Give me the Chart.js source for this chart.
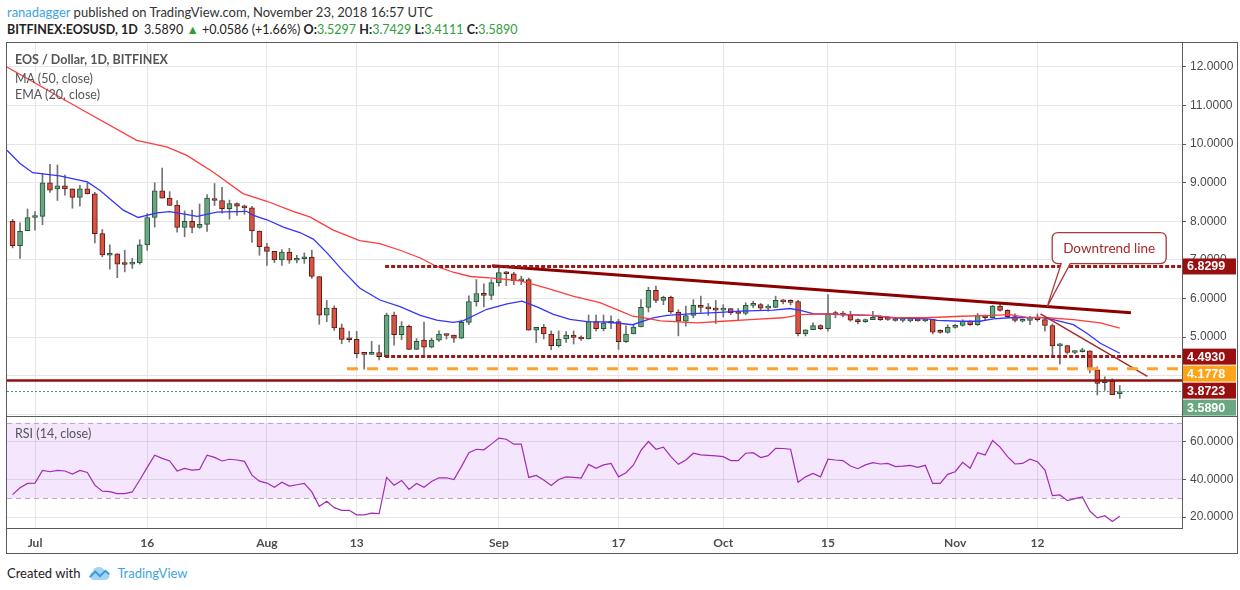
<!DOCTYPE html>
<html>
<head>
<meta charset="utf-8">
<script src="https://cdn.jsdelivr.net/npm/chart.js@4.4.0/dist/chart.umd.min.js"></script>
<style>
  body { margin: 0; width: 1240px; height: 590px; overflow: hidden; position: relative; background: #fff; font-family: Lato, "Liberation Sans", sans-serif; }
  .abs { position: absolute; white-space: nowrap; }
  #hdr1 { left: 7px; top: 4px; font-size: 13px; color: #333; }
  #hdr1 .user { color: #3ea3e0; }
  #hdr2 { left: 7px; top: 22px; font-size: 12.5px; color: #222; }
  #hdr2 b { font-weight: bold; }
  #hdr2 .g { color: #2f9e3a; }
  #frame { left: 6px; top: 42px; width: 1232px; height: 512px; box-sizing: border-box; border: 1px solid #5b5b5b; }
  #sep { left: 6px; top: 416px; width: 1232px; height: 1px; background: #5b5b5b; }
  #priceChart { position: absolute; left: 7px; top: 43px; }
  #rsiChart { position: absolute; left: 7px; top: 417px; }
  .leg { font-size: 12.5px; color: #555; }
  #foot { left: 7px; top: 565px; font-size: 13px; color: #222; }
  #foot .tv { color: #3ea3e0; }
</style>
</head>
<body>
<div id="hdr1" class="abs"><span class="user">ranadagger</span> published on TradingView.com, November 23, 2018 16:57 UTC</div>
<div id="hdr2" class="abs"><b>BITFINEX:EOSUSD, 1D</b>&nbsp; 3.5890 <span class="g">&#9650;</span> +0.0586 (+1.66%) <b>O:</b><span class="g">3.5297</span> <b>H:</b><span class="g">3.7429</span> <b>L:</b><span class="g">3.4111</span> <b>C:</b><span class="g">3.5890</span></div>
<canvas id="priceChart" width="1230" height="373"></canvas>
<canvas id="rsiChart" width="1230" height="136"></canvas>
<div id="frame" class="abs"></div>
<div id="sep" class="abs"></div>
<div class="abs leg" style="left:15px;top:52px;font-weight:bold;">EOS / Dollar, 1D, BITFINEX</div>
<div class="abs leg" style="left:15px;top:71px;">MA (50, close)</div>
<div class="abs leg" style="left:15px;top:87px;">EMA (20, close)</div>
<div class="abs leg" style="left:15px;top:426px;">RSI (14, close)</div>
<div id="foot" class="abs">Created with &nbsp;<svg width="24" height="15" viewBox="0 0 26 16" style="vertical-align:-3px"><path d="M6 15 a5 5 0 0 1 0-9 a7 7 0 0 1 13-1 a5 5 0 0 1 1 10z" fill="#a6d3f2"/><polyline points="3,12 9,6 14,11 20,5 24,9" fill="none" stroke="#2e9be0" stroke-width="2"/></svg>&nbsp; <span class="tv">TradingView</span></div>

<script>
// day index: Jul 1 2018 = 0, first candle Jun 28 = -3
const firstDay = -3;

const opens = [
  8.00, 7.37, 7.76, 8.10, 8.13, 9.00, 8.84, 8.92, 8.84, 8.62,
  8.84, 8.71, 7.68, 7.12, 7.16, 6.90, 6.89, 6.92, 7.39, 8.10,
  8.79, 8.60, 8.42, 7.84, 8.00, 7.84, 7.92, 8.59, 8.54, 8.33,
  8.46, 8.39, 8.35, 7.75, 7.34, 7.22, 7.00, 7.20, 6.99, 7.03,
  7.07, 6.57, 5.57, 5.75, 5.24, 4.95, 4.94, 4.57, 4.55, 4.60,
  4.49, 5.57, 5.06, 5.28, 4.68, 4.92, 4.74, 4.92, 5.08, 5.05,
  4.97, 5.38, 5.92, 6.13, 6.08, 6.41, 6.67, 6.64, 6.46, 6.49,
  5.18, 5.25, 5.08, 4.78, 4.95, 5.05, 4.99, 4.95, 5.40, 5.22,
  5.36, 5.40, 4.88, 5.08, 5.26, 5.77, 6.21, 5.95, 6.03, 5.65,
  5.41, 5.56, 5.82, 5.77, 5.74, 5.70, 5.74, 5.63, 5.61, 5.82,
  5.84, 5.75, 5.77, 5.95, 5.92, 5.92, 5.09, 5.19, 5.30, 5.22,
  5.61, 5.58, 5.58, 5.44, 5.40, 5.45, 5.51, 5.47, 5.48, 5.43,
  5.42, 5.46, 5.42, 5.46, 5.13, 5.12, 5.25, 5.30, 5.41, 5.32,
  5.56, 5.50, 5.80, 5.69, 5.53, 5.41, 5.43, 5.51, 5.45, 5.30,
  4.77, 4.78, 4.60, 4.62, 4.64, 4.15, 3.82, 3.86, 3.5297
];
const highs = [
  8.05, 7.96, 8.32, 8.25, 9.24, 9.48, 9.46, 9.20, 8.84, 8.93,
  9.00, 8.75, 7.79, 7.39, 7.16, 7.25, 7.04, 7.52, 8.20, 9.00,
  9.38, 8.77, 8.54, 8.27, 8.29, 8.45, 8.69, 8.98, 8.88, 8.55,
  8.48, 8.42, 8.39, 7.75, 7.43, 7.22, 7.27, 7.30, 7.12, 7.18,
  7.25, 6.57, 5.95, 5.81, 5.34, 5.15, 5.15, 4.57, 4.89, 4.79,
  5.62, 5.65, 5.40, 5.31, 4.96, 5.39, 4.97, 5.16, 5.08, 5.05,
  5.44, 6.07, 6.49, 6.38, 6.49, 6.83, 6.70, 6.68, 6.58, 6.53,
  5.25, 5.33, 5.16, 5.16, 5.14, 5.16, 5.03, 5.57, 5.57, 5.57,
  5.55, 5.46, 5.29, 5.32, 5.97, 6.29, 6.32, 6.06, 6.06, 5.71,
  5.80, 5.97, 6.06, 5.87, 5.95, 5.84, 5.74, 5.74, 5.89, 5.93,
  5.87, 5.84, 6.06, 5.97, 5.97, 5.95, 5.19, 5.37, 5.32, 6.10,
  5.67, 5.67, 5.67, 5.47, 5.47, 5.67, 5.56, 5.54, 5.50, 5.50,
  5.50, 5.47, 5.48, 5.46, 5.19, 5.32, 5.33, 5.45, 5.43, 5.61,
  5.57, 5.82, 5.86, 5.71, 5.60, 5.47, 5.54, 5.60, 5.50, 5.34,
  4.84, 4.78, 4.64, 4.71, 4.64, 4.23, 3.97, 3.92, 3.7429
];
const lows = [
  7.31, 7.04, 7.76, 7.77, 7.91, 8.75, 8.54, 8.68, 8.34, 8.39,
  8.71, 7.44, 7.08, 6.76, 6.54, 6.69, 6.78, 6.89, 7.25, 7.85,
  8.60, 8.41, 7.72, 7.60, 7.70, 7.82, 7.74, 8.41, 8.21, 8.06,
  8.15, 8.18, 7.45, 7.12, 6.86, 6.93, 6.86, 6.91, 6.92, 6.91,
  6.52, 5.33, 5.40, 5.17, 4.83, 4.87, 4.46, 4.17, 4.55, 4.41,
  4.49, 4.79, 4.93, 4.68, 4.68, 4.54, 4.72, 4.89, 4.95, 4.86,
  4.96, 5.32, 5.80, 5.78, 5.97, 6.32, 6.33, 6.36, 6.36, 5.18,
  4.86, 4.95, 4.67, 4.74, 4.86, 4.82, 4.91, 4.95, 5.16, 5.16,
  5.22, 4.68, 4.86, 5.08, 5.26, 5.65, 5.89, 5.84, 5.61, 5.03,
  5.28, 5.50, 5.64, 5.56, 5.35, 5.52, 5.58, 5.43, 5.58, 5.76,
  5.71, 5.67, 5.76, 5.86, 5.83, 5.03, 5.03, 5.19, 5.19, 5.15,
  5.50, 5.52, 5.41, 5.34, 5.38, 5.45, 5.43, 5.43, 5.41, 5.39,
  5.39, 5.41, 5.40, 5.08, 5.10, 5.10, 5.23, 5.28, 5.30, 5.30,
  5.43, 5.50, 5.67, 5.51, 5.39, 5.39, 5.32, 5.41, 5.15, 4.50,
  4.30, 4.56, 4.57, 4.61, 4.07, 3.50, 3.62, 3.51, 3.4111
];
const closes = [
  7.37, 7.74, 8.10, 8.13, 9.00, 8.81, 8.92, 8.84, 8.62, 8.84,
  8.71, 7.68, 7.13, 7.14, 6.89, 6.88, 6.92, 7.39, 8.10, 8.79,
  8.60, 8.41, 7.84, 8.00, 7.84, 7.92, 8.60, 8.54, 8.33, 8.46,
  8.39, 8.35, 7.75, 7.34, 7.22, 7.00, 7.20, 6.99, 7.04, 7.07,
  6.57, 5.57, 5.75, 5.24, 4.94, 4.93, 4.56, 4.55, 4.60, 4.49,
  5.57, 5.06, 5.28, 4.68, 4.89, 4.74, 4.92, 5.08, 5.04, 4.97,
  5.38, 5.92, 6.13, 6.08, 6.41, 6.67, 6.64, 6.46, 6.49, 5.18,
  5.25, 5.08, 4.78, 4.95, 5.05, 4.99, 4.95, 5.40, 5.22, 5.36,
  5.40, 4.88, 5.08, 5.26, 5.77, 6.21, 5.95, 6.03, 5.65, 5.41,
  5.56, 5.82, 5.77, 5.73, 5.70, 5.74, 5.63, 5.61, 5.82, 5.84,
  5.75, 5.77, 5.95, 5.91, 5.90, 5.09, 5.19, 5.30, 5.22, 5.61,
  5.58, 5.57, 5.44, 5.40, 5.45, 5.51, 5.45, 5.46, 5.43, 5.45,
  5.46, 5.42, 5.46, 5.13, 5.12, 5.25, 5.30, 5.41, 5.32, 5.56,
  5.50, 5.80, 5.69, 5.53, 5.43, 5.43, 5.51, 5.45, 5.30, 4.77,
  4.78, 4.60, 4.63, 4.64, 4.15, 3.80, 3.87, 3.51, 3.589
];

// RSI (14, close), one value per candle
const rsiValues = [
  31.9, 35.5, 37.8, 38.0, 44.7, 44.0, 44.7, 44.4, 42.8, 44.7,
  43.6, 36.9, 33.7, 33.5, 32.4, 32.4, 33.3, 39.6, 46.3, 52.7,
  51.1, 49.7, 44.4, 45.8, 44.9, 45.2, 52.7, 51.6, 49.7, 50.6,
  50.2, 49.5, 42.2, 39.0, 38.0, 35.8, 38.5, 36.4, 37.1, 37.8,
  33.3, 25.7, 28.4, 25.0, 23.6, 23.6, 21.2, 21.2, 22.1, 21.8,
  41.0, 36.9, 39.4, 34.6, 37.8, 35.8, 38.8, 40.8, 40.8, 39.9,
  46.7, 54.1, 55.9, 55.6, 58.6, 61.8, 61.2, 58.6, 58.6, 41.0,
  42.0, 39.6, 36.7, 39.9, 41.3, 41.0, 40.6, 47.9, 45.8, 47.6,
  48.4, 41.3, 43.5, 47.6, 55.3, 60.0, 55.9, 57.0, 52.0, 47.9,
  50.2, 53.8, 52.9, 52.7, 52.4, 52.0, 49.9, 49.9, 53.8, 54.1,
  51.5, 52.5, 56.4, 56.3, 55.9, 38.5, 41.3, 43.1, 41.3, 50.6,
  50.2, 49.9, 47.0, 45.6, 47.6, 48.8, 48.1, 48.4, 46.7, 47.0,
  47.4, 46.3, 47.4, 37.8, 37.8, 42.6, 44.0, 49.0, 45.8, 54.1,
  52.9, 60.5, 57.0, 52.0, 48.1, 48.4, 50.6, 49.3, 44.9, 31.4,
  31.7, 28.7, 29.8, 30.7, 23.2, 19.6, 20.7, 17.7, 20.4
];

// EMA (20) and MA (50)
const emaDays = [-3.75, -2.0, -0.3, 3.3, 7.0, 8.7, 11.8, 13.8, 16.3, 18.0,
  21.7, 24.3, 28.3, 29.1, 31.0, 33.2, 35.4, 37.2, 39.0, 41.2,
  43.4, 46.1, 48.8, 51.5, 53.7, 55.9, 57.2, 60.4, 63.1, 65.1,
  67.1, 69.3, 71.5, 73.8, 76.5, 79.9, 82.6, 84.5, 88.0, 91.6,
  94.3, 98.7, 100.9, 102.3, 104.0, 107.6, 111.6, 114.7, 119.3, 120.6,
  123.7, 126.3, 128.1, 130.3, 134.4, 136.1, 138.8, 140.6, 142.4, 145.0];
const emaValues = [9.84, 9.50, 9.26, 9.18, 9.02, 8.80, 8.29, 8.10, 8.22, 8.25,
  8.13, 8.24, 8.26, 8.16, 8.04, 7.85, 7.71, 7.54, 7.19, 6.71,
  6.27, 5.96, 5.79, 5.56, 5.44, 5.38, 5.42, 5.72, 5.86, 5.93,
  5.78, 5.59, 5.46, 5.40, 5.39, 5.32, 5.50, 5.56, 5.61, 5.64,
  5.67, 5.70, 5.74, 5.69, 5.61, 5.58, 5.56, 5.50, 5.47, 5.43,
  5.41, 5.41, 5.47, 5.50, 5.51, 5.45, 5.32, 5.10, 4.84, 4.58];
const maDays = [-3.75, 6.4, 13.6, 17.6, 20.3, 23.8, 27.8, 31.0, 34.5, 36.8,
  39.8, 43.4, 46.1, 48.8, 51.5, 53.7, 55.9, 58.2, 61.2, 64.8,
  68.4, 71.9, 75.5, 78.2, 79.9, 82.2, 83.6, 88.5, 92.0, 95.6,
  100.0, 102.3, 105.9, 111.6, 114.7, 119.3, 123.7, 128.1, 130.3, 132.6,
  135.3, 138.8, 142.4, 145.0];
const maValues = [12.00, 10.88, 10.10, 9.93, 9.71, 9.28, 8.72, 8.52, 8.26, 8.11,
  7.78, 7.50, 7.42, 7.25, 7.05, 6.83, 6.68, 6.57, 6.53, 6.46,
  6.27, 6.06, 5.89, 5.68, 5.54, 5.47, 5.42, 5.37, 5.41, 5.45,
  5.50, 5.58, 5.60, 5.56, 5.51, 5.50, 5.54, 5.56, 5.58, 5.51,
  5.50, 5.45, 5.37, 5.23];

const tickDays = [0, 15, 31, 43, 62, 78, 92, 106, 123, 134];
const tickNames = ['Jul', '16', 'Aug', '13', 'Sep', '17', 'Oct', '15', 'Nov', '12'];
const priceTicks = [3, 4, 5, 6, 7, 8, 9, 10, 11, 12];
const rsiTicks = [20, 40, 60];
const rsiBand = [30, 70];

// drawn levels and trend lines
const levelValues = [6.8299, 4.4930, 4.1778, 3.8723, 3.5890];
const levelFromDays = [46.8, 46.8, 41.7, -3.75, -3.75];
const trendDays = [61.1, 146.5];
const trendValues = [6.85, 5.63];
const breakDays = [134.4, 148.7];
const breakValues = [5.60, 3.98];
const calloutDay = 135.3;
const calloutText = 'Downtrend line';

const xMin = -3.743, xMax = 153.32;
const FONT = 'Lato, "Liberation Sans", sans-serif';
Chart.defaults.font.family = FONT;

const days = opens.map((o, i) => firstDay + i);
const up = opens.map((o, i) => closes[i] >= o);

const levelStyles = [
  { color: '#9e1a1a', width: 3, dash: [4, 2] },
  { color: '#9e1a1a', width: 3, dash: [4, 2] },
  { color: '#ffa22b', width: 3, dash: [11, 9] },
  { color: '#8f1111', width: 2.5, dash: [] },
  { color: '#3e9e63', width: 1, dash: [2, 2] }
];
const boxColors = ['#990f0f', '#990f0f', '#ffa318', '#990f0f', '#6aa883'];

const levelSets = levelValues.map((v, i) => ({
  type: 'line',
  data: [{ x: levelFromDays[i], y: v }, { x: xMax, y: v }],
  borderColor: levelStyles[i].color,
  borderWidth: levelStyles[i].width,
  borderDash: levelStyles[i].dash,
  pointRadius: 0,
  order: 0
}));

const xGrid = {
  type: 'linear', min: xMin, max: xMax, offset: false,
  grid: { color: '#e6e6e6', offset: false, drawTicks: false },
  border: { display: false },
  afterBuildTicks: s => { s.ticks = tickDays.map(v => ({ value: v })); }
};

const priceLabels = {
  id: 'priceLabels',
  afterDraw(chart) {
    const { ctx, chartArea, scales: { x, y } } = chart;
    ctx.save();
    ctx.font = '12px "Liberation Sans", Arial, sans-serif';
    ctx.fillStyle = '#4a4a4a';
    ctx.textBaseline = 'middle';
    priceTicks.forEach(v => {
      if (v < 3.5) return;
      ctx.fillText(v.toFixed(4), chartArea.right + 8, y.getPixelForValue(v));
    });
    // callout
    const f = (calloutDay - trendDays[0]) / (trendDays[1] - trendDays[0]);
    const ax = x.getPixelForValue(calloutDay);
    const ay = y.getPixelForValue(trendValues[0] + f * (trendValues[1] - trendValues[0]));
    const bx = ax + 5, by = ay - 74, bw = 114, bh = 31, r = 6;
    ctx.beginPath();
    ctx.moveTo(bx + r, by);
    ctx.lineTo(bx + bw - r, by); ctx.quadraticCurveTo(bx + bw, by, bx + bw, by + r);
    ctx.lineTo(bx + bw, by + bh - r); ctx.quadraticCurveTo(bx + bw, by + bh, bx + bw - r, by + bh);
    ctx.lineTo(bx + 18, by + bh);
    ctx.lineTo(ax, ay);
    ctx.lineTo(bx + 9, by + bh);
    ctx.lineTo(bx + r, by + bh); ctx.quadraticCurveTo(bx, by + bh, bx, by + bh - r);
    ctx.lineTo(bx, by + r); ctx.quadraticCurveTo(bx, by, bx + r, by);
    ctx.closePath();
    ctx.fillStyle = '#fff';
    ctx.fill();
    ctx.strokeStyle = '#a83a3a';
    ctx.lineWidth = 1.3;
    ctx.stroke();
    ctx.fillStyle = '#a52a2a';
    ctx.font = '13.5px ' + FONT;
    ctx.textAlign = 'center';
    ctx.fillText(calloutText, bx + bw / 2, by + bh / 2 + 1);
    ctx.textAlign = 'left';
    // value boxes on the price axis
    let prev = -Infinity;
    levelValues.forEach((v, i) => {
      const py = Math.max(y.getPixelForValue(v), prev + 17);
      prev = py;
      ctx.fillStyle = boxColors[i];
      ctx.fillRect(chartArea.right + 1, py - 8, 53, 16);
      ctx.fillStyle = '#fff';
      ctx.font = 'bold 12.5px "Liberation Sans", Arial, sans-serif';
      ctx.fillText(v.toFixed(4), chartArea.right + 5, py + 0.5);
    });
    ctx.restore();
  }
};

new Chart(document.getElementById('priceChart'), {
  type: 'bar',
  data: {
    datasets: [
      {
        label: 'MA 50', type: 'line',
        data: maDays.map((d, i) => ({ x: d, y: maValues[i] })),
        borderColor: '#ff3b3b', borderWidth: 1.3, pointRadius: 0, order: 1
      },
      {
        label: 'EMA 20', type: 'line',
        data: emaDays.map((d, i) => ({ x: d, y: emaValues[i] })),
        borderColor: '#3434ff', borderWidth: 1.3, pointRadius: 0, order: 1
      },
      ...levelSets,
      {
        type: 'line',
        data: trendDays.map((d, i) => ({ x: d, y: trendValues[i] })),
        borderColor: '#8c0000', borderWidth: 3, pointRadius: 0, order: 0
      },
      {
        type: 'line',
        data: breakDays.map((d, i) => ({ x: d, y: breakValues[i] })),
        borderColor: '#a52a2a', borderWidth: 1.5, pointRadius: 0, order: 0
      },
      {
        label: 'wick',
        data: days.map((d, i) => ({ x: d, y: [lows[i], highs[i]] })),
        backgroundColor: '#737373', barThickness: 1, grouped: false,
        borderWidth: 0, order: 4
      },
      {
        label: 'body',
        data: days.map((d, i) => ({ x: d, y: [opens[i], closes[i]] })),
        backgroundColor: up.map(u => u ? '#6ba583' : '#d75442'),
        borderColor: up.map(u => u ? '#225437' : '#5b1a13'),
        borderWidth: 1, borderSkipped: false, barThickness: 5,
        minBarLength: 2, grouped: false, order: 3
      }
    ]
  },
  options: {
    responsive: false, animation: false,
    layout: { padding: 0 },
    plugins: { legend: { display: false }, tooltip: { enabled: false } },
    scales: {
      x: Object.assign({}, xGrid, {
        ticks: { display: false },
        afterFit: s => { s.height = 0; }
      }),
      y: {
        type: 'linear', position: 'right', min: 2.954, max: 12.622,
        grid: { color: '#e6e6e6', tickLength: 4, tickColor: '#5b5b5b' },
        border: { display: true, color: '#5b5b5b' },
        ticks: { display: false },
        afterBuildTicks: s => { s.ticks = priceTicks.map(v => ({ value: v })); },
        afterFit: s => { s.width = 55; }
      }
    }
  },
  plugins: [priceLabels]
});

const rsiDecor = {
  id: 'rsiDecor',
  beforeDraw(chart) {
    const { ctx, chartArea, scales: { y } } = chart;
    ctx.save();
    ctx.fillStyle = '#f4e6fd';
    const t = y.getPixelForValue(rsiBand[1]), b = y.getPixelForValue(rsiBand[0]);
    ctx.fillRect(chartArea.left, t, chartArea.right - chartArea.left, b - t);
    ctx.restore();
  },
  beforeDatasetsDraw(chart) {
    const { ctx, chartArea, scales: { y } } = chart;
    ctx.save();
    ctx.strokeStyle = '#b9aabf';
    ctx.lineWidth = 1;
    ctx.setLineDash([5, 4]);
    rsiBand.forEach(v => {
      const py = Math.round(y.getPixelForValue(v)) + 0.5;
      ctx.beginPath(); ctx.moveTo(chartArea.left, py); ctx.lineTo(chartArea.right, py); ctx.stroke();
    });
    ctx.restore();
  },
  afterDraw(chart) {
    const { ctx, chartArea, scales: { y } } = chart;
    ctx.save();
    ctx.font = '12px "Liberation Sans", Arial, sans-serif';
    ctx.fillStyle = '#4a4a4a';
    ctx.textBaseline = 'middle';
    rsiTicks.forEach(v => ctx.fillText(v.toFixed(4), chartArea.right + 8, y.getPixelForValue(v)));
    ctx.restore();
  }
};

new Chart(document.getElementById('rsiChart'), {
  type: 'line',
  data: {
    datasets: [{
      label: 'RSI',
      data: days.map((d, i) => ({ x: d, y: rsiValues[i] })),
      borderColor: '#a32cb5', borderWidth: 1.2, pointRadius: 0
    }]
  },
  options: {
    responsive: false, animation: false,
    layout: { padding: 0 },
    plugins: { legend: { display: false }, tooltip: { enabled: false } },
    scales: {
      x: Object.assign({}, xGrid, {
        grid: { color: 'rgba(0,0,0,0.09)', drawTicks: false },
        border: { display: true, color: '#5b5b5b' },
        ticks: {
          autoSkip: false, maxRotation: 0, padding: 8, color: '#4d4d4d',
          font: { size: 12, weight: 'bold' },
          callback: v => { const i = tickDays.indexOf(v); return i >= 0 ? tickNames[i] : ''; }
        },
        afterFit: s => { s.height = 25; }
      }),
      y: {
        type: 'linear', position: 'right', min: 14.23, max: 72.96,
        grid: { color: 'rgba(0,0,0,0.09)', tickLength: 4, tickColor: '#5b5b5b' },
        border: { display: true, color: '#5b5b5b' },
        ticks: { display: false },
        afterBuildTicks: s => { s.ticks = rsiTicks.map(v => ({ value: v })); },
        afterFit: s => { s.width = 55; }
      }
    }
  },
  plugins: [rsiDecor]
});
</script>
</body>
</html>
